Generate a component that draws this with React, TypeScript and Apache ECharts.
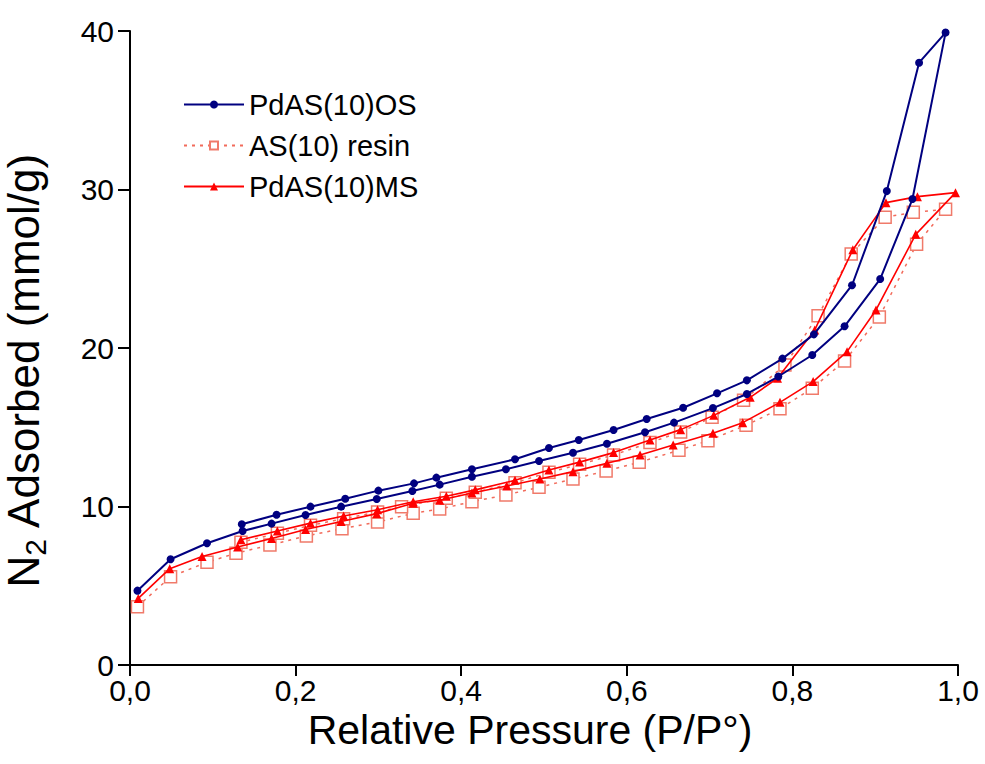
import React, { useEffect, useRef } from "react";
import * as echarts from "echarts";

// x ticks / y ticks
const xTicks = [0, 0.2, 0.4, 0.6, 0.8, 1.0];
const yTicks = [0, 10, 20, 30, 40];

// PdAS(10)OS — adsorption then desorption
const osAdsX = [0.009, 0.049, 0.093, 0.136, 0.171, 0.212, 0.255, 0.298, 0.341, 0.374, 0.413, 0.454, 0.494, 0.535, 0.576, 0.622, 0.657, 0.704, 0.745, 0.783, 0.824, 0.863, 0.906, 0.945, 0.985];
const osAdsY = [4.69, 6.67, 7.68, 8.45, 8.92, 9.46, 9.99, 10.47, 10.98, 11.38, 11.88, 12.35, 12.87, 13.39, 13.96, 14.68, 15.29, 16.21, 17.1, 18.2, 19.56, 21.37, 24.35, 29.4, 39.9];
const osDesX = [0.953, 0.914, 0.872, 0.826, 0.788, 0.745, 0.709, 0.668, 0.624, 0.584, 0.542, 0.506, 0.465, 0.413, 0.37, 0.343, 0.3, 0.26, 0.218, 0.177, 0.135];
const osDesY = [38.0, 29.9, 23.96, 20.86, 19.33, 17.96, 17.14, 16.23, 15.52, 14.83, 14.2, 13.69, 12.98, 12.35, 11.82, 11.46, 11.0, 10.49, 9.99, 9.48, 8.88];

// AS(10) resin
const resinAdsX = [0.009, 0.049, 0.093, 0.128, 0.169, 0.213, 0.256, 0.299, 0.342, 0.374, 0.413, 0.454, 0.494, 0.535, 0.575, 0.615, 0.663, 0.698, 0.744, 0.785, 0.824, 0.863, 0.905, 0.95, 0.985];
const resinAdsY = [3.68, 5.57, 6.48, 7.05, 7.57, 8.14, 8.6, 9.02, 9.57, 9.84, 10.3, 10.73, 11.21, 11.74, 12.24, 12.79, 13.55, 14.15, 15.12, 16.17, 17.46, 19.18, 21.96, 26.54, 28.75];
const resinDesX = [0.946, 0.912, 0.871, 0.831, 0.791, 0.741, 0.703, 0.665, 0.628, 0.584, 0.543, 0.506, 0.465, 0.417, 0.382, 0.328, 0.299, 0.258, 0.218, 0.178, 0.134];
const resinDesY = [28.56, 28.25, 25.93, 22.04, 18.93, 16.7, 15.63, 14.7, 14.03, 13.25, 12.66, 12.16, 11.5, 10.9, 10.52, 9.99, 9.65, 9.23, 8.81, 8.31, 7.74];

// PdAS(10)MS
const msAdsX = [0.01, 0.048, 0.087, 0.13, 0.171, 0.212, 0.255, 0.298, 0.342, 0.374, 0.413, 0.455, 0.495, 0.535, 0.576, 0.616, 0.656, 0.704, 0.74, 0.785, 0.825, 0.866, 0.901, 0.949, 0.997];
const msAdsY = [4.2, 6.08, 6.85, 7.45, 7.98, 8.55, 9.05, 9.55, 10.2, 10.4, 10.85, 11.29, 11.74, 12.2, 12.73, 13.25, 13.88, 14.62, 15.29, 16.57, 17.88, 19.77, 22.4, 27.17, 29.8];
const msDesX = [0.951, 0.913, 0.873, 0.827, 0.782, 0.749, 0.705, 0.665, 0.628, 0.584, 0.543, 0.506, 0.465, 0.417, 0.382, 0.342, 0.299, 0.258, 0.218, 0.178, 0.134];
const msDesY = [29.55, 29.17, 26.2, 21.14, 18.09, 16.89, 15.75, 14.85, 14.2, 13.4, 12.8, 12.3, 11.65, 11.05, 10.65, 10.3, 9.8, 9.4, 8.95, 8.45, 7.9];

const zip = (xs: number[], ys: number[]) => xs.map((x, i) => [x, ys[i]]);

export default function App() {
  const ref = useRef<HTMLDivElement>(null);
  useEffect(() => {
    if (!ref.current) return;
    const chart = echarts.init(ref.current, undefined, { renderer: "svg" });
    const font = "'Liberation Sans', Arial, sans-serif";
    chart.setOption({
      animation: false,
      backgroundColor: "#ffffff",
      textStyle: { fontFamily: font },
      grid: { left: 130, top: 31, right: 27, bottom: 99, containLabel: false, outerBoundsMode: "none" },
      legend: {
        orient: "vertical",
        left: 178,
        top: 85,
        itemWidth: 60,
        itemHeight: 10,
        itemGap: 12,
        textStyle: { fontFamily: font, fontSize: 29, color: "#000" },
        data: ["PdAS(10)OS", "AS(10) resin", "PdAS(10)MS"],
      },
      xAxis: {
        type: "value",
        min: 0,
        max: 1,
        interval: 0.2,
        name: "Relative Pressure (P/P°)",
        nameLocation: "middle",
        nameGap: 43,
        nameTextStyle: { fontFamily: font, fontSize: 41, color: "#000", padding: [0, 28, 0, 0] },
        axisLine: { show: true, lineStyle: { color: "#000", width: 2 } },
        axisTick: { show: true, length: 11, lineStyle: { color: "#000", width: 2 } },
        axisLabel: {
          fontFamily: font,
          fontSize: 30,
          color: "#000",
          margin: 10,
          formatter: (v: number) => (xTicks.includes(Math.round(v * 10) / 10) ? v.toFixed(1).replace(".", ",") : ""),
        },
        splitLine: { show: false },
      },
      yAxis: {
        type: "value",
        min: 0,
        max: 40,
        interval: 10,
        name: "{a|N}{b|2}{a| Adsorbed (mmol/g)}",
        nameLocation: "middle",
        nameGap: 80,
        nameTextStyle: {
          fontFamily: font,
          color: "#000",
          padding: [0, 0, 0, -44],
          rich: {
            a: { fontFamily: font, fontSize: 44, color: "#000" },
            b: { fontFamily: font, fontSize: 30, color: "#000", padding: [24, 0, 0, 0] },
          },
        },
        axisLine: { show: true, lineStyle: { color: "#000", width: 2 } },
        axisTick: { show: true, length: 12, lineStyle: { color: "#000", width: 2 } },
        axisLabel: {
          fontFamily: font,
          fontSize: 30,
          color: "#000",
          margin: 16,
          formatter: (v: number) => (yTicks.includes(v) ? String(v) : ""),
        },
        splitLine: { show: false },
      },
      series: [
        {
          name: "AS(10) resin",
          type: "line",
          data: [...zip(resinAdsX, resinAdsY), ...zip(resinDesX, resinDesY)],
          symbol: "rect",
          symbolSize: 12,
          showAllSymbol: true,
          lineStyle: { color: "#f26b5b", width: 1.5, type: [3, 5] },
          itemStyle: { color: "#ffffff", borderColor: "#f07a6a", borderWidth: 1.5 },
          z: 2,
        },
        {
          name: "PdAS(10)MS",
          type: "line",
          data: [...zip(msAdsX, msAdsY), ...zip(msDesX, msDesY)],
          symbol: "triangle",
          symbolSize: 9,
          showAllSymbol: true,
          lineStyle: { color: "#ff0000", width: 1.6 },
          itemStyle: { color: "#ff0000" },
          z: 3,
        },
        {
          name: "PdAS(10)OS",
          type: "line",
          data: [...zip(osAdsX, osAdsY), ...zip(osDesX, osDesY)],
          symbol: "circle",
          symbolSize: 8,
          showAllSymbol: true,
          lineStyle: { color: "#000080", width: 2 },
          itemStyle: { color: "#000080" },
          z: 4,
        },
      ],
    });
    return () => chart.dispose();
  }, []);
  return <div ref={ref} style={{ width: 985, height: 764, position: "absolute", left: 0, top: 0 }} />;
}
